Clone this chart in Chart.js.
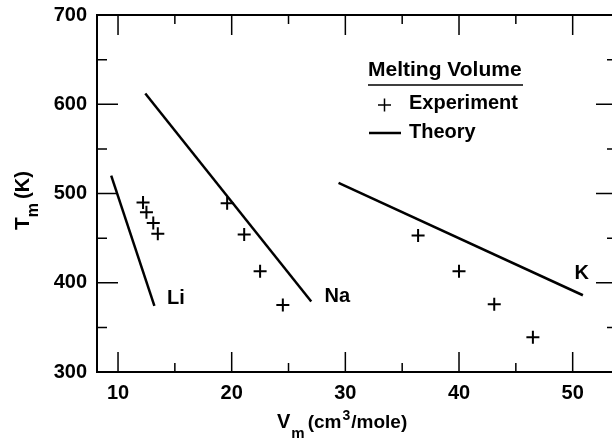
<!DOCTYPE html>
<html>
<head>
<meta charset="utf-8">
<script src="https://cdn.jsdelivr.net/npm/chart.js@4/dist/chart.umd.min.js"></script>
<style>
body { margin: 0; overflow: hidden; background: #fff; }
</style>
</head>
<body>
<canvas id="melting-chart" width="630" height="440"></canvas>
<script>
// axis ticks
const xTicks = [10, 20, 30, 40, 50];
const xMinorTicks = [15, 25, 35, 45];
const yTicks = [300, 400, 500, 600, 700];
const yMinorTicks = [350, 450, 550, 650];

// experiment (+)
const liExpV = [12.2, 12.5, 13.1, 13.5];
const liExpT = [490, 479, 467, 455];
const naExpV = [19.6, 21.1, 22.5, 24.5];
const naExpT = [489, 454, 413, 375];
const kExpV = [36.4, 40.0, 43.1, 46.5];
const kExpT = [453, 413, 376, 339];

// theory lines (end points)
const liTheoryV = [9.4, 13.2];
const liTheoryT = [520, 374];
const naTheoryV = [12.4, 27.0];
const naTheoryT = [612, 379];
const kTheoryV = [29.4, 50.9];
const kTheoryT = [512, 386];

// element labels
const elementNames = ['Li', 'Na', 'K'];
const elementV = [15.1, 29.3, 50.8];
const elementT = [382, 385, 410];

const FONT = '"Liberation Sans", Arial, Helvetica, sans-serif';

function pts(xs, ys) {
    return xs.map((x, i) => ({x: x, y: ys[i]}));
}

function theoryLine(xs, ys) {
    return {
        type: 'line',
        label: 'Theory',
        data: pts(xs, ys),
        borderColor: 'black',
        borderWidth: 2.5,
        pointRadius: 0,
        fill: false,
        tension: 0
    };
}

const framePlugin = {
    id: 'frame',
    afterDraw(chart) {
        const ctx = chart.ctx;
        const a = chart.chartArea;
        const xs = chart.scales.x;
        const ys = chart.scales.y;
        ctx.save();
        ctx.strokeStyle = 'black';

        // frame
        ctx.lineWidth = 2;
        ctx.strokeRect(a.left, a.top, a.right - a.left, a.bottom - a.top);

        // inward ticks on all four sides
        ctx.lineWidth = 1.5;
        ctx.beginPath();
        const tick = (vals, len) => {
            vals.forEach(v => {
                const px = xs.getPixelForValue(v);
                ctx.moveTo(px, a.bottom); ctx.lineTo(px, a.bottom - len);
                ctx.moveTo(px, a.top); ctx.lineTo(px, a.top + len);
            });
        };
        const ytick = (vals, len) => {
            vals.forEach(v => {
                const py = ys.getPixelForValue(v);
                ctx.moveTo(a.left, py); ctx.lineTo(a.left + len, py);
                ctx.moveTo(a.right, py); ctx.lineTo(a.right - len, py);
            });
        };
        tick(xTicks, 20);
        tick(xMinorTicks, 9);
        ytick(yTicks.slice(1, -1), 21);
        ytick(yMinorTicks, 10);
        ctx.stroke();

        // element labels
        ctx.fillStyle = 'black';
        ctx.font = 'bold 20px ' + FONT;
        ctx.textAlign = 'center';
        ctx.textBaseline = 'middle';
        elementNames.forEach((n, i) => {
            ctx.fillText(n, xs.getPixelForValue(elementV[i]), ys.getPixelForValue(elementT[i]));
        });

        // legend
        ctx.textAlign = 'left';
        ctx.textBaseline = 'alphabetic';
        ctx.font = 'bold 21px ' + FONT;
        ctx.fillText('Melting Volume', 368, 76);
        ctx.font = 'bold 20px ' + FONT;
        ctx.lineWidth = 1.5;
        ctx.beginPath();
        ctx.moveTo(368, 85); ctx.lineTo(523, 85);
        ctx.moveTo(378, 105); ctx.lineTo(391, 105);
        ctx.moveTo(384.5, 98.5); ctx.lineTo(384.5, 111.5);
        ctx.stroke();
        ctx.lineWidth = 2.5;
        ctx.beginPath();
        ctx.moveTo(369, 133); ctx.lineTo(401, 133);
        ctx.stroke();
        ctx.fillText('Experiment', 409, 109);
        ctx.fillText('Theory', 409, 138);

        // x title: V_m (cm^3/mole)
        let x = 277;
        const by = 428;
        ctx.font = 'bold 20px ' + FONT;
        ctx.fillText('V', x, by);
        x += ctx.measureText('V').width + 1;
        ctx.font = 'bold 15px ' + FONT;
        ctx.fillText('m', x, by + 10);
        x += ctx.measureText('m').width + 3;
        ctx.font = 'bold 19px ' + FONT;
        ctx.fillText('(cm', x, by);
        x += ctx.measureText('(cm').width + 1;
        ctx.font = 'bold 14px ' + FONT;
        ctx.fillText('3', x, by - 8);
        x += ctx.measureText('3').width + 1;
        ctx.font = 'bold 19px ' + FONT;
        ctx.fillText('/mole)', x, by);

        // y title: T_m (K), rotated
        ctx.translate(29, 230);
        ctx.rotate(-Math.PI / 2);
        let t = 0;
        ctx.font = 'bold 21px ' + FONT;
        ctx.fillText('T', t, 0);
        t += ctx.measureText('T').width;
        ctx.font = 'bold 16px ' + FONT;
        ctx.fillText('m', t, 9);
        t += ctx.measureText('m').width + 4;
        ctx.font = 'bold 20px ' + FONT;
        ctx.fillText('(K)', t, 0);

        ctx.restore();
    }
};

const meltingChart = new Chart(document.getElementById('melting-chart'), {
    type: 'scatter',
    data: {
        datasets: [
            {
                label: 'Experiment',
                data: pts(liExpV, liExpT).concat(pts(naExpV, naExpT), pts(kExpV, kExpT)),
                pointStyle: 'cross',
                pointRadius: 6.5,
                pointBorderWidth: 2,
                borderColor: 'black',
                backgroundColor: 'black'
            },
            theoryLine(liTheoryV, liTheoryT),
            theoryLine(naTheoryV, naTheoryT),
            theoryLine(kTheoryV, kTheoryT)
        ]
    },
    options: {
        responsive: false,
        animation: false,
        layout: {
            padding: {left: 0, top: 15, right: 13, bottom: 0}
        },
        plugins: {
            legend: {display: false},
            tooltip: {enabled: false}
        },
        scales: {
            x: {
                type: 'linear',
                min: 8.15,
                max: 53.9,
                grid: {display: false},
                border: {display: false},
                afterBuildTicks: (s) => { s.ticks = xTicks.map(v => ({value: v})); },
                afterFit: (s) => { s.height = 68; },
                ticks: {
                    color: 'black',
                    padding: 1,
                    maxRotation: 0,
                    font: {family: FONT, size: 20, weight: 'bold'}
                }
            },
            y: {
                type: 'linear',
                min: 300,
                max: 700,
                grid: {display: false},
                border: {display: false},
                afterBuildTicks: (s) => { s.ticks = yTicks.map(v => ({value: v})); },
                afterFit: (s) => { s.width = 97; },
                ticks: {
                    color: 'black',
                    padding: 2,
                    font: {family: FONT, size: 20, weight: 'bold'}
                }
            }
        }
    },
    plugins: [framePlugin]
});
</script>
</body>
</html>
